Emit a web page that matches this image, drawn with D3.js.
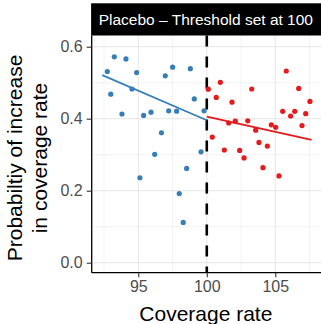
<!DOCTYPE html>
<html>
<head>
<meta charset="utf-8">
<script src="https://cdn.jsdelivr.net/npm/d3@7"></script>
<style>
html,body{margin:0;padding:0;background:#fff;}
svg{display:block;font-family:"Liberation Sans",Arial,sans-serif;}
</style>
</head>
<body>
<svg id="chart" width="321" height="324"></svg>
<script>
// ---- data ----
const stripTitle = "Placebo \u2013 Threshold set at 100";
const xTitle = "Coverage rate";
const yTitleLines = ["Probabiltiy of increase", "in coverage rate"];
const xTicks = [95, 100, 105];
const yTicks = [0.0, 0.2, 0.4, 0.6];
const xMinor = [92.5, 97.5, 102.5, 107.5];
const yMinor = [0.1, 0.3, 0.5];
const threshold = 100;

const belowX = [92.74, 93.25, 94.10, 92.99, 94.54, 94.88, 93.81, 95.39, 95.93, 96.97, 97.51, 97.22, 97.80, 98.80, 99.09, 99.80, 96.69, 96.20, 99.58, 98.53, 95.12, 97.99, 98.28];
const belowY = [0.531, 0.572, 0.566, 0.468, 0.4825, 0.528, 0.413, 0.409, 0.418, 0.519, 0.543, 0.422, 0.421, 0.539, 0.455, 0.422, 0.361, 0.301, 0.308, 0.262, 0.236, 0.192, 0.112];
const aboveX = [100.11, 100.99, 100.69, 101.84, 103.28, 101.60, 102.08, 102.99, 103.57, 104.71, 105.03, 105.80, 106.71, 107.53, 105.54, 106.12, 106.42, 107.22, 106.95, 100.40, 101.28, 102.40, 102.72, 103.81, 104.42, 104.10, 105.27];
const aboveY = [0.482, 0.501, 0.459, 0.446, 0.4825, 0.388, 0.393, 0.394, 0.368, 0.383, 0.376, 0.5325, 0.484, 0.448, 0.4206, 0.4075, 0.4206, 0.414, 0.381, 0.349, 0.313, 0.312, 0.291, 0.334, 0.324, 0.264, 0.241];
// fitted lines (endpoints)
const belowFitX = [92.37, 100];
const belowFitY = [0.521, 0.3956];
const aboveFitX = [100, 107.65];
const aboveFitY = [0.4056, 0.341];

const blue = "#377EB8", red = "#E41A1C";

// ---- layout ----
const P = {left: 91.7, right: 321, top: 35.5, bottom: 272.7};
const stripTop = 3.3;

const svg = d3.select("#chart");
const x = d3.scaleLinear().domain([91.6, 91.6 + (P.right - P.left) / 13.7]).range([P.left, P.right]);
const y = d3.scaleLinear().domain([-0.0278, 0.0 + (262.7 - P.top) / 360 - 0.0]).range([P.bottom, P.top]);
// recompute y so that y(0)=262.7, 360px per unit
y.domain([(262.7 - P.bottom) / 360, (262.7 - P.top) / 360]);

const g = svg.append("g");
// panel background
g.append("rect").attr("x", P.left).attr("y", P.top).attr("width", P.right - P.left).attr("height", P.bottom - P.top).attr("fill", "#fff");

// grid
const grid = g.append("g");
grid.selectAll(".xmin").data(xMinor).join("line")
  .attr("x1", d => x(d)).attr("x2", d => x(d)).attr("y1", P.top).attr("y2", P.bottom)
  .attr("stroke", "#EBEBEB").attr("stroke-width", 0.6);
grid.selectAll(".ymin").data(yMinor).join("line")
  .attr("y1", d => y(d)).attr("y2", d => y(d)).attr("x1", P.left).attr("x2", P.right)
  .attr("stroke", "#EBEBEB").attr("stroke-width", 0.6);
grid.selectAll(".xmaj").data(xTicks).join("line")
  .attr("x1", d => x(d)).attr("x2", d => x(d)).attr("y1", P.top).attr("y2", P.bottom)
  .attr("stroke", "#EBEBEB").attr("stroke-width", 1.2);
grid.selectAll(".ymaj").data(yTicks).join("line")
  .attr("y1", d => y(d)).attr("y2", d => y(d)).attr("x1", P.left).attr("x2", P.right)
  .attr("stroke", "#EBEBEB").attr("stroke-width", 1.2);

// threshold dashed line
g.append("line").attr("x1", x(threshold)).attr("x2", x(threshold))
  .attr("y1", P.top).attr("y2", P.bottom)
  .attr("stroke", "#000").attr("stroke-width", 2.6).attr("stroke-dasharray", "11,10");

// points
g.selectAll(".pb").data(belowX.map((v, i) => [v, belowY[i]])).join("circle")
  .attr("cx", d => x(d[0])).attr("cy", d => y(d[1])).attr("r", 2.6).attr("fill", blue);
g.selectAll(".pa").data(aboveX.map((v, i) => [v, aboveY[i]])).join("circle")
  .attr("cx", d => x(d[0])).attr("cy", d => y(d[1])).attr("r", 2.6).attr("fill", red);

// fit lines
const line = d3.line().x(d => x(d[0])).y(d => y(d[1]));
g.append("path").datum(belowFitX.map((v, i) => [v, belowFitY[i]])).attr("d", line)
  .attr("stroke", blue).attr("stroke-width", 1.8).attr("fill", "none");
g.append("path").datum(aboveFitX.map((v, i) => [v, aboveFitY[i]])).attr("d", line)
  .attr("stroke", red).attr("stroke-width", 1.8).attr("fill", "none");

// axes
const xAxis = svg.append("g").attr("transform", `translate(0,${P.bottom})`)
  .call(d3.axisBottom(x).tickValues(xTicks).tickSize(4.5).tickPadding(3).tickFormat(d3.format("d")));
const yAxis = svg.append("g").attr("transform", `translate(${P.left},0)`)
  .call(d3.axisLeft(y).tickValues(yTicks).tickSize(5).tickPadding(4).tickFormat(d3.format(".1f")));
[xAxis, yAxis].forEach(a => {
  a.select(".domain").attr("stroke", "#000").attr("stroke-width", 1.3);
  a.selectAll(".tick line").attr("stroke", "#333").attr("stroke-width", 1.1);
  a.selectAll(".tick text").attr("fill", "#4D4D4D").style("font-size", "16px").style("font-family", "'Liberation Sans',Arial,sans-serif");
});
yAxis.select(".domain").attr("d", `M0,${P.top}V${P.bottom}`);
xAxis.select(".domain").attr("d", `M${P.left},0H${P.right}`);

// strip
svg.append("rect").attr("x", P.left - 0.6).attr("y", stripTop).attr("width", P.right - P.left + 1).attr("height", P.top - stripTop)
  .attr("fill", "#000");
svg.append("text").attr("x", (P.left + 320) / 2).attr("y", (stripTop + P.top) / 2 + 5.5)
  .attr("text-anchor", "middle").attr("fill", "#fff").style("font-size", "15.5px").text(stripTitle);

// axis titles
svg.append("text").attr("x", (P.left + 320) / 2).attr("y", 321)
  .attr("text-anchor", "middle").attr("fill", "#000").style("font-size", "21px").text(xTitle);
const yt = svg.append("text").attr("transform", `translate(0,158) rotate(-90)`)
  .attr("text-anchor", "middle").attr("fill", "#000").style("font-size", "21px");
yt.selectAll("tspan").data(yTitleLines).join("tspan")
  .attr("x", 0).attr("y", (d, i) => 22 + i * 25).text(d => d);
</script>
</body>
</html>
